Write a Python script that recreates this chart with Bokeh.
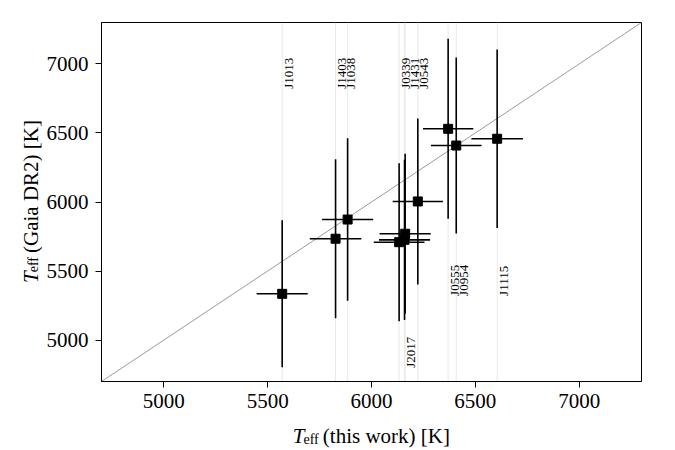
import math
from bokeh.plotting import figure
from bokeh.layouts import row, column
from bokeh.models import ColumnDataSource, Span, Slope, Label
from bokeh.core.properties import value
from bokeh.embed import file_html
from bokeh.resources import INLINE

# ---- data ----
names = ["J1013", "J1403", "J1038", "J0339", "J1431", "J2017", "J0543", "J0555", "J0954", "J1115"]
teff_this = [5570, 5827, 5885, 6133, 6162, 6159, 6223, 6369, 6408, 6605]
teff_this_err = [123, 124, 123, 122, 123, 123, 121, 121, 122, 124]
teff_gaia = [5335, 5734, 5873, 5709, 5770, 5726, 6004, 6530, 6409, 6458]
teff_gaia_err = [532, 576, 588, 572, 580, 580, 601, 652, 638, 647]

# label groups: first name gives anchor x; y is label start (data units)
label_groups = [["J1013"], ["J1403", "J1038"], ["J0339", "J1431", "J0543"],
                ["J0555", "J0954"], ["J1115"], ["J2017"]]
label_y = [6820, 6820, 6820, 5320, 5320, 4800]

ticks = [5000, 5500, 6000, 6500, 7000]
axis_lo, axis_hi = 4700, 7300

FONT = "Liberation Serif"
LEFT_W = 42      # strip holding the y-axis title
BOTTOM_H = 33    # strip holding the x-axis title

src = ColumnDataSource(dict(
    x=teff_this, y=teff_gaia,
    x0=[a - e for a, e in zip(teff_this, teff_this_err)],
    x1=[a + e for a, e in zip(teff_this, teff_this_err)],
    y0=[a - e for a, e in zip(teff_gaia, teff_gaia_err)],
    y1=[a + e for a, e in zip(teff_gaia, teff_gaia_err)],
))

p = figure(width=675 - LEFT_W, height=450 - BOTTOM_H,
           x_range=(axis_lo, axis_hi), y_range=(axis_lo, axis_hi),
           output_backend="svg", toolbar_location=None,
           min_border_left=101 - LEFT_W, min_border_right=34, min_border_top=22,
           min_border_bottom=69 - BOTTOM_H)
p.background_fill_color = "white"
p.border_fill_color = "white"
p.grid.visible = False
p.outline_line_color = "black"
p.outline_line_width = 1
p.outline_line_alpha = 1

for ax in (p.xaxis, p.yaxis):
    ax.ticker = ticks
    ax.minor_tick_line_color = None
    ax.major_tick_out = 6
    ax.major_tick_in = 0
    ax.major_tick_line_color = "black"
    ax.axis_line_color = "black"
    ax.major_label_text_font = FONT
    ax.major_label_text_font_size = "21px"
    ax.major_label_text_color = "black"
    ax.axis_label = None
p.xaxis.major_label_standoff = 6
p.yaxis.major_label_standoff = 7

# thin vertical guide lines at each star (behind everything)
for xv in teff_this:
    p.add_layout(Span(location=xv, dimension="height", line_color="#e3e3e3",
                      line_width=0.8, level="underlay"))

# one-to-one line
p.add_layout(Slope(gradient=1, y_intercept=0, line_color="#808080", line_width=0.8,
                   level="underlay"))

# error bars
p.segment(x0="x0", y0="y", x1="x1", y1="y", source=src, line_color="black", line_width=1.6)
p.segment(x0="x", y0="y0", x1="x", y1="y1", source=src, line_color="black", line_width=1.6)
p.scatter(x="x", y="y", source=src, marker="square", size=9, fill_color="black", line_color="black")

# star name labels
lx = [teff_this[names.index(g[0])] for g in label_groups]
ltxt = ["\n".join(g) for g in label_groups]
lsrc = ColumnDataSource(dict(x=lx, y=label_y, t=ltxt))
p.text(x="x", y="y", text="t", source=lsrc, angle=math.pi / 2,
       text_align="left", text_baseline="top", text_font=value(FONT),
       text_font_size="13px", text_color="black", text_line_height=0.62, x_offset=-1.5)


def strip(w, h):
    f = figure(width=w, height=h, output_backend="svg", toolbar_location=None,
               x_axis_location=None, y_axis_location=None,
               min_border=0, min_border_left=0, min_border_right=0,
               min_border_top=0, min_border_bottom=0)
    f.grid.visible = False
    f.outline_line_color = None
    f.background_fill_color = "white"
    f.border_fill_color = "white"
    return f


def lab(f, **kw):
    base = dict(x_units="screen", y_units="screen", text_font=FONT, text_color="black",
                text_baseline="alphabetic", text_align="left")
    base.update(kw)
    f.add_layout(Label(**base))


# x-axis title strip (its frame is aligned with the main frame: x measured from canvas x=101)
fb = strip(675 - LEFT_W, BOTTOM_H)
lab(fb, x=191.3, y=14.3, text="T", text_font_style="italic", text_font_size="21px")
lab(fb, x=202.0, y=11.3, text="eff", text_font_size="14px")
lab(fb, x=221.3, y=14.3, text="(this work) [K]", text_font_size="21px")

# y-axis title strip (canvas x 0..42, full height)
fl = strip(LEFT_W, 450)
lab(fl, x=30.2, y=167.5, angle=math.pi / 2, text="T", text_font_style="italic", text_font_size="21px")
lab(fl, x=33.2, y=178.2, angle=math.pi / 2, text="eff", text_font_size="14px")
lab(fl, x=30.2, y=197.5, angle=math.pi / 2, text="(Gaia DR2) [K]", text_font_size="21px")

layout = row(fl, column(p, fb))
open("out.html", "w").write(file_html(layout, INLINE))
